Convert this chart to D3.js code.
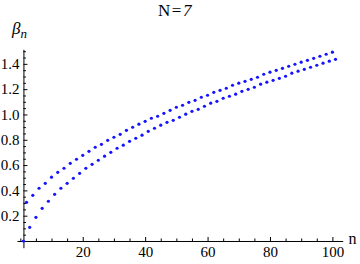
<!DOCTYPE html>
<html>
<head>
<meta charset="utf-8">
<script src="https://cdn.jsdelivr.net/npm/d3@7"></script>
<style>
  html, body { margin: 0; padding: 0; background: #fff; }
  svg { display: block; }
  text { font-family: "Liberation Serif", "DejaVu Serif", serif; fill: #000; }
</style>
</head>
<body>
<svg id="chart" width="360" height="264"></svg>
<script>
// ---- Data ----
const title = "N=7";
const upperN = [2,4,6,8,10,12,14,16,18,20,22,24,26,28,30,32,34,36,38,40,
  42,44,46,48,50,52,54,56,58,60,62,64,66,68,70,72,74,76,78,80,
  82,84,86,88,90,92,94,96,98,100];
const upperBeta = [0.306,0.361,0.417,0.456,0.504,0.543,0.575,0.614,0.646,0.677,
  0.709,0.741,0.764,0.796,0.820,0.843,0.875,0.899,0.923,0.946,
  0.970,0.986,1.009,1.033,1.057,1.073,1.096,1.112,1.136,1.152,
  1.175,1.191,1.207,1.231,1.247,1.262,1.278,1.294,1.318,1.334,
  1.349,1.365,1.381,1.397,1.413,1.428,1.444,1.460,1.476,1.492];
const lowerN = [1,3,5,7,9,11,13,15,17,19,21,23,25,27,29,31,33,35,37,39,
  41,43,45,47,49,51,53,55,57,59,61,63,65,67,69,71,73,75,77,79,
  81,83,85,87,89,91,93,95,97,99,101];
const lowerBeta = [0.000,0.108,0.187,0.258,0.314,0.369,0.417,0.456,0.496,0.535,
  0.575,0.606,0.638,0.670,0.701,0.733,0.757,0.788,0.812,0.836,
  0.867,0.891,0.915,0.938,0.954,0.978,1.002,1.025,1.041,1.065,
  1.089,1.104,1.128,1.144,1.160,1.183,1.199,1.215,1.239,1.255,
  1.270,1.286,1.302,1.326,1.342,1.357,1.373,1.389,1.405,1.421,1.436];
const xMajorTicks = [20,40,60,80,100];
const xMinorTicks = [0,5,10,15,25,30,35,45,50,55,65,70,75,85,90,95];
const yMajorTicks = [0.2,0.4,0.6,0.8,1.0,1.2,1.4];
const yMinorTicks = [0.05,0.1,0.15,0.25,0.3,0.35,0.45,0.5,0.55,0.65,0.7,0.75,
  0.85,0.9,0.95,1.05,1.1,1.15,1.25,1.3,1.35,1.45,1.5];
const xDomain = [-1.06, 103.3];
const yDomain = [-0.053, 1.515];
const xOrigin = 1, yOrigin = 0;

// ---- Chart ----
const svg = d3.select("#chart");
const x = d3.scaleLinear().domain(xDomain).range([17, 342.7]);
const y = d3.scaleLinear().domain(yDomain).range([247.7, 49.3]);

const fmtY = d3.format(".1f");

// x axis
const gx = svg.append("g").attr("transform", `translate(0,${y(yOrigin)})`);
gx.call(d3.axisBottom(x).tickValues(xMajorTicks).tickSizeInner(-4).tickSizeOuter(0)
  .tickPadding(5.5).tickFormat(d3.format("d")));
svg.append("g").attr("transform", `translate(0,${y(yOrigin)})`)
  .call(d3.axisBottom(x).tickValues(xMinorTicks).tickSizeInner(-2.5).tickSizeOuter(0).tickFormat(""))
  .select(".domain").remove();

// y axis
const gy = svg.append("g").attr("transform", `translate(${x(xOrigin)},0)`);
gy.call(d3.axisLeft(y).tickValues(yMajorTicks).tickSizeInner(-4).tickSizeOuter(0)
  .tickPadding(4).tickFormat(fmtY));
svg.append("g").attr("transform", `translate(${x(xOrigin)},0)`)
  .call(d3.axisLeft(y).tickValues(yMinorTicks).tickSizeInner(-2.5).tickSizeOuter(0).tickFormat(""))
  .select(".domain").remove();

svg.selectAll(".tick text").attr("font-size", 15).attr("font-family", "Liberation Serif");
svg.selectAll(".domain, .tick line").attr("stroke", "#000").attr("stroke-width", 1);

// points
const pts = svg.append("g").attr("fill", "#1414ff");
pts.selectAll("circle.up").data(upperN.map((n, i) => [n, upperBeta[i]]))
  .join("circle").attr("class", "up")
  .attr("cx", d => x(d[0])).attr("cy", d => y(d[1])).attr("r", 1.6);
pts.selectAll("circle.lo").data(lowerN.map((n, i) => [n, lowerBeta[i]]))
  .join("circle").attr("class", "lo")
  .attr("cx", d => x(d[0])).attr("cy", d => y(d[1])).attr("r", 1.6);

// title
const t = svg.append("text").attr("x", 158).attr("y", 16).attr("font-size", 17);
t.append("tspan").text("N");
t.append("tspan").attr("dx", 1.5).text("=");
t.append("tspan").attr("dx", 1.5).attr("font-style", "italic").text("7");

// y label
const yl = svg.append("text").attr("x", 12).attr("y", 34).attr("font-size", 17).attr("font-style", "italic");
yl.append("tspan").text("β");
yl.append("tspan").attr("dy", 4).attr("font-size", 13).text("n");

// x label
svg.append("text").attr("x", 348.5).attr("y", 244).attr("font-size", 16).text("n");
</script>
</body>
</html>
